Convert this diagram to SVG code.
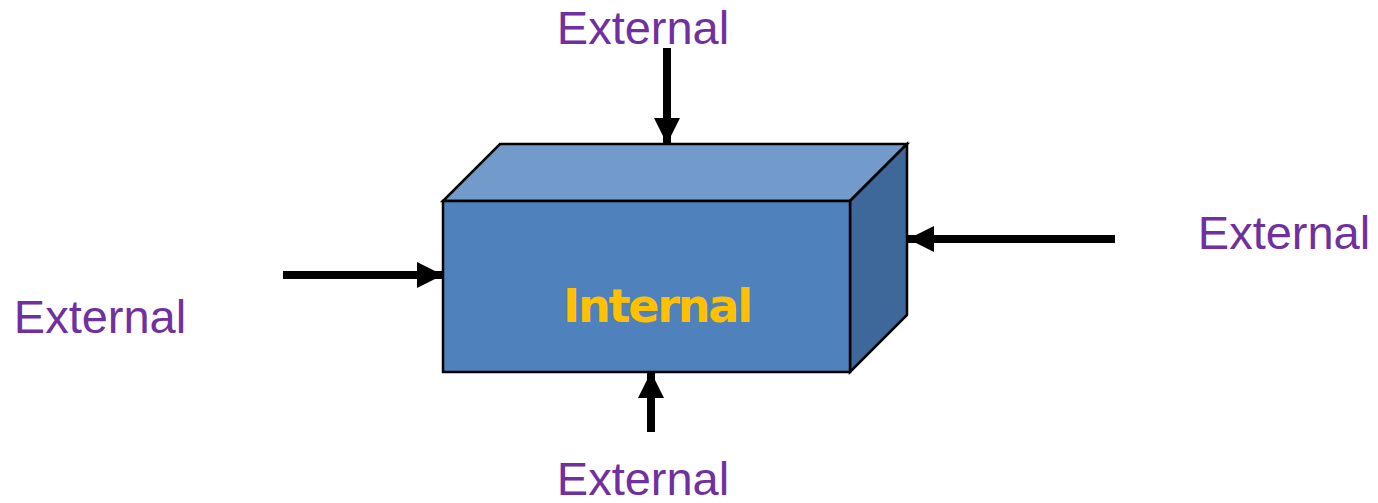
<svg xmlns="http://www.w3.org/2000/svg" width="1378" height="503" viewBox="0 0 1378 503">
<style>
.ext{font-family:"Liberation Sans",Arial,sans-serif;font-size:47px;fill:#7030A0}
.int{font-family:"DejaVu Sans",Verdana,sans-serif;font-weight:bold;font-size:46px;fill:#FFC000}
.edge{stroke:#000;stroke-width:2.5;stroke-linejoin:miter}
.arr{stroke:#000;stroke-width:8;fill:none}
</style>
<defs>
<marker id="ah" viewBox="0 0 26 26" refX="26" refY="13" markerWidth="26" markerHeight="26" markerUnits="userSpaceOnUse" orient="auto">
<path d="M0,0 L26,13 L0,26 Z" fill="#000"/>
</marker>
</defs>
<rect width="1378" height="503" fill="#fff"/>
<g id="internal">
<polygon class="edge" points="443,201 500,144 907,144 850,201" fill="#729ACA"/>
<polygon class="edge" points="850,201 907,144 907,315 850,372" fill="#3F689A"/>
<rect class="edge" x="443" y="201" width="407" height="171" fill="#4F81BD"/>
<text class="int" x="658" y="322" text-anchor="middle" textLength="190" lengthAdjust="spacing">Internal</text>
</g>
<g id="ext-top"><text class="ext" x="643" y="44" text-anchor="middle">External</text></g>
<g id="ext-right"><text class="ext" x="1284" y="249" text-anchor="middle">External</text></g>
<g id="ext-left"><text class="ext" x="100" y="333" text-anchor="middle">External</text></g>
<g id="ext-bottom"><text class="ext" x="643" y="495" text-anchor="middle">External</text></g>
<g id="connectors">
<line class="arr" x1="667" y1="48" x2="667" y2="144" marker-end="url(#ah)"/>
<line class="arr" x1="283" y1="275" x2="443" y2="275" marker-end="url(#ah)"/>
<line class="arr" x1="1115" y1="239" x2="908" y2="239" marker-end="url(#ah)"/>
<line class="arr" x1="651" y1="432" x2="651" y2="372" marker-end="url(#ah)"/>
</g>
</svg>
